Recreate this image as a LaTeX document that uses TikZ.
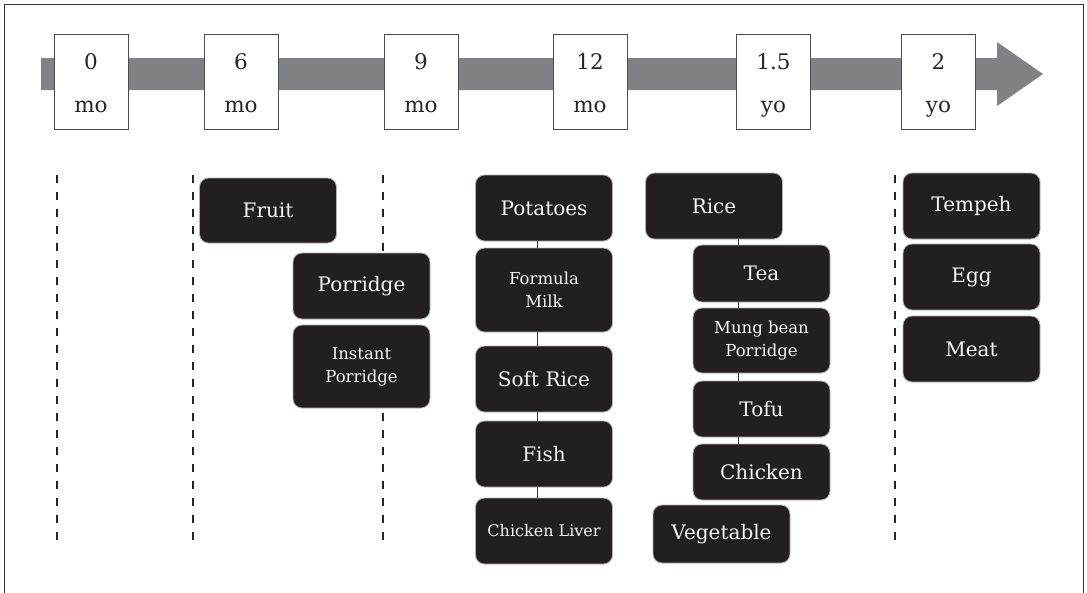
\documentclass[tikz,border=0pt]{standalone}
\usepackage{fontspec}
\setmainfont{DejaVu Serif}
\definecolor{arrowgray}{HTML}{808285}
\definecolor{boxdark}{HTML}{231F20}
\definecolor{boxtext}{HTML}{F4F4F4}
\tikzset{
  food/.style={draw=black!30, line width=0.8pt, fill=boxdark, rounded corners=9pt,
    text=boxtext, minimum width=137pt, minimum height=66pt, inner sep=0pt,
    align=center, font=\fontsize{20}{23}\selectfont},
  foodsm/.style={food, font=\fontsize{16.5}{23}\selectfont},
  tbox/.style={draw=black!70, line width=0.9pt, fill=white,
    minimum width=74pt, minimum height=95pt, inner sep=0pt},
  tlab/.style={anchor=base, inner sep=0pt, font=\fontsize{21.5}{21.5}\selectfont, text=black!85},
  guide/.style={line width=2pt, dash pattern=on 8pt off 9pt, draw=black!85},
  link/.style={draw=black!80, line width=0.8pt},
  frame/.style={draw=black!80, line width=1.6pt}
}
\begin{document}
\begin{tikzpicture}[x=1pt,y=-1pt]
\useasboundingbox (0,0) rectangle (1087,592);
% frame
\draw[frame] (4.5,595) -- (4.5,4.5) -- (1083.5,4.5) -- (1083.5,595);
% dashed guides
\foreach \gx in {56.5,193,383,895}{
  \draw[guide] (\gx,175) -- (\gx,546);
}
% timeline arrow
\fill[arrowgray] (41,58) -- (997,58) -- (997,42) -- (1043,74) -- (997,106) -- (997,90) -- (41,90) -- cycle;
% time boxes
\node[tbox] (t0) at (91,81.5) {};
\node[tbox] (t6) at (241,81.5) {};
\node[tbox] (t9) at (421,81.5) {};
\node[tbox] (t12) at (590,81.5) {};
\node[tbox] (t18) at (773.5,81.5) {};
\node[tbox] (t24) at (938.5,81.5) {};
\node[tlab] (t0a) at (91,69) {0};
\node[tlab] (t0b) at (91,112) {mo};
\node[tlab] (t6a) at (241,69) {6};
\node[tlab] (t6b) at (241,112) {mo};
\node[tlab] (t9a) at (421,69) {9};
\node[tlab] (t9b) at (421,112) {mo};
\node[tlab] (t12a) at (590,69) {12};
\node[tlab] (t12b) at (590,112) {mo};
\node[tlab] (t18a) at (773.5,69) {1.5};
\node[tlab] (t18b) at (773.5,112) {yo};
\node[tlab] (t24a) at (938.5,69) {2};
\node[tlab] (t24b) at (938.5,112) {yo};
% food boxes
\node[food, minimum height=65pt] (fruit) at (268,210.5) {Fruit};
\node[food] (porr) at (361.5,286) {Porridge};
\node[foodsm, minimum height=83pt] (inst) at (361.5,366.5) {Instant\\Porridge};
\node[food] (pot) at (544,208) {Potatoes};
\node[foodsm, minimum height=84pt] (milk) at (544,290) {Formula\\Milk};
\node[food] (soft) at (544,379) {Soft Rice};
\node[food] (fish) at (544,454) {Fish};
\node[food, font=\fontsize{16}{19}\selectfont] (liver) at (544,531) {Chicken Liver};
\node[food] (rice) at (714,206) {Rice};
\node[food, minimum height=57pt] (tea) at (761.5,273.5) {Tea};
\node[foodsm, minimum height=65pt] (mung) at (761.5,340.5) {Mung bean\\Porridge};
\node[food, minimum height=56pt] (tofu) at (761.5,409) {Tofu};
\node[food, minimum height=56pt] (chick) at (761.5,472) {Chicken};
\node[food, minimum height=58pt] (veg) at (721.5,534) {Vegetable};
\node[food] (tempeh) at (971.5,206) {Tempeh};
\node[food] (egg) at (971.5,277) {Egg};
\node[food] (meat) at (971.5,349) {Meat};
% connectors
\draw[link] ([xshift=-7pt]pot.south) -- ([xshift=-7pt]milk.north);
\draw[link] ([xshift=-7pt]milk.south) -- ([xshift=-7pt]soft.north);
\draw[link] ([xshift=-7pt]soft.south) -- ([xshift=-7pt]fish.north);
\draw[link] ([xshift=-7pt]fish.south) -- ([xshift=-7pt]liver.north);
\draw[link] ([xshift=24pt]rice.south) -- ([xshift=-23.5pt]tea.north);
\draw[link] ([xshift=-23.5pt]tea.south) -- ([xshift=-23.5pt]mung.north);
\draw[link] ([xshift=-23.5pt]mung.south) -- ([xshift=-23.5pt]tofu.north);
\draw[link] ([xshift=-23.5pt]tofu.south) -- ([xshift=-23.5pt]chick.north);
\end{tikzpicture}
\end{document}
